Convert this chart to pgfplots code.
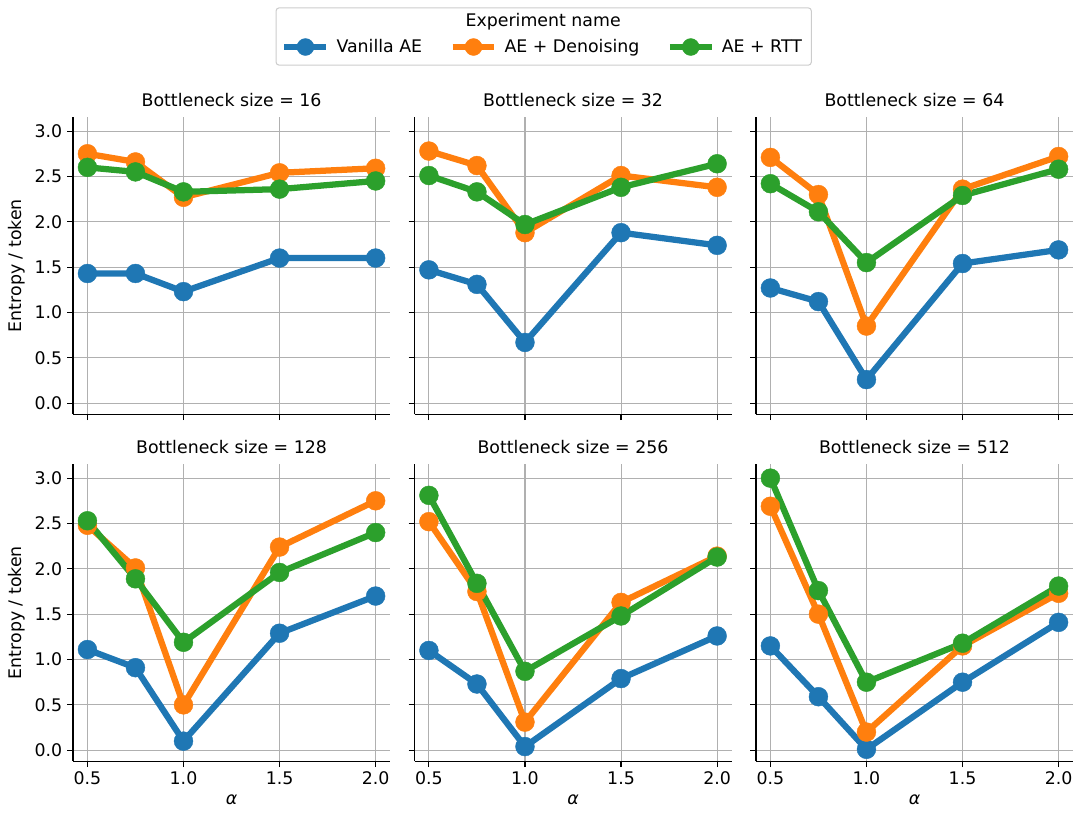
\documentclass[border=0pt]{standalone}
\usepackage{fontspec}
\setmainfont{DejaVu Sans}
\usepackage{pgfplots}
\pgfplotsset{compat=1.18}
\usepgfplotslibrary{groupplots}
\usetikzlibrary{calc}
\definecolor{tabblue}{HTML}{1F77B4}
\definecolor{taborange}{HTML}{FF7F0E}
\definecolor{tabgreen}{HTML}{2CA02C}
\definecolor{gridgray}{HTML}{B0B0B0}
\newcommand{\fs}{\fontsize{12.5}{15}\selectfont}
\pgfplotsset{
  sblue/.style={tabblue, line width=4.5pt, mark=*, mark size=6.8pt, mark options={solid, line width=0.3pt}},
  sorange/.style={taborange, line width=4.5pt, mark=*, mark size=6.8pt, mark options={solid, line width=0.3pt}},
  sgreen/.style={tabgreen, line width=4.5pt, mark=*, mark size=6.8pt, mark options={solid, line width=0.3pt}},
}
\begin{document}
\begin{tikzpicture}
\begin{groupplot}[
  group style={group name=g, group size=3 by 2, horizontal sep=17.6pt, vertical sep=36pt,
    xticklabels at=edge bottom, yticklabels at=edge left, xlabels at=edge bottom, ylabels at=edge left},
  scale only axis, width=228.2pt, height=213.8pt,
  xmin=0.425, xmax=2.075, ymin=-0.12, ymax=3.155,
  xtick={0.5,1,1.5,2}, ytick={0,0.5,1,1.5,2,2.5,3},
  axis x line*=bottom, axis y line*=left,
  tick align=outside, major tick length=4.3pt,
  grid=major, major grid style={gridgray, line width=0.75pt},
  axis line style={black, line width=0.8pt},
  every tick/.style={black, line width=0.8pt},
  tick label style={font=\fs},
  /pgf/number format/assume math mode=true,
  xticklabel style={/pgf/number format/.cd, fixed, fixed zerofill, precision=1},
  yticklabel style={/pgf/number format/.cd, fixed, fixed zerofill, precision=1},
  title style={font=\fs, yshift=-2pt},
  label style={font=\fs},
  xlabel={\itshape α}, ylabel={Entropy / token},
  legend image code/.code={\draw[mark repeat=2,mark phase=2,#1, mark size=6.1pt] plot coordinates {(0pt,0pt) (15.1pt,0pt) (30.2pt,0pt)};},
]
\nextgroupplot[title={Bottleneck size = 16},
  legend columns=3,
  legend style={font=\fs, draw=none, fill=none, at={(1.4826,1.2357)}, anchor=center,
    /tikz/every odd column/.append style={column sep=3pt},
    /tikz/every even column/.append style={column sep=17.6pt}}]
\addplot[sblue] coordinates {(0.5,1.43)(0.75,1.43)(1.0,1.23)(1.5,1.60)(2.0,1.60)};
\addlegendentry{Vanilla AE}
\addplot[sorange] coordinates {(0.5,2.75)(0.75,2.66)(1.0,2.27)(1.5,2.54)(2.0,2.59)};
\addlegendentry{AE + Denoising}
\addplot[sgreen] coordinates {(0.5,2.60)(0.75,2.55)(1.0,2.33)(1.5,2.36)(2.0,2.45)};
\addlegendentry{AE + RTT}
\nextgroupplot[title={Bottleneck size = 32}]
\addplot[sblue] coordinates {(0.5,1.47)(0.75,1.31)(1.0,0.67)(1.5,1.88)(2.0,1.74)};
\addplot[sorange] coordinates {(0.5,2.78)(0.75,2.62)(1.0,1.88)(1.5,2.51)(2.0,2.38)};
\addplot[sgreen] coordinates {(0.5,2.51)(0.75,2.33)(1.0,1.97)(1.5,2.38)(2.0,2.64)};
\nextgroupplot[title={Bottleneck size = 64}]
\addplot[sblue] coordinates {(0.5,1.27)(0.75,1.12)(1.0,0.26)(1.5,1.54)(2.0,1.69)};
\addplot[sorange] coordinates {(0.5,2.71)(0.75,2.30)(1.0,0.85)(1.5,2.36)(2.0,2.72)};
\addplot[sgreen] coordinates {(0.5,2.42)(0.75,2.11)(1.0,1.55)(1.5,2.29)(2.0,2.58)};
\nextgroupplot[title={Bottleneck size = 128}]
\addplot[sblue] coordinates {(0.5,1.11)(0.75,0.91)(1.0,0.10)(1.5,1.29)(2.0,1.70)};
\addplot[sorange] coordinates {(0.5,2.48)(0.75,2.01)(1.0,0.50)(1.5,2.24)(2.0,2.75)};
\addplot[sgreen] coordinates {(0.5,2.53)(0.75,1.89)(1.0,1.19)(1.5,1.96)(2.0,2.40)};
\nextgroupplot[title={Bottleneck size = 256}]
\addplot[sblue] coordinates {(0.5,1.10)(0.75,0.73)(1.0,0.04)(1.5,0.79)(2.0,1.26)};
\addplot[sorange] coordinates {(0.5,2.52)(0.75,1.75)(1.0,0.31)(1.5,1.63)(2.0,2.14)};
\addplot[sgreen] coordinates {(0.5,2.81)(0.75,1.84)(1.0,0.87)(1.5,1.48)(2.0,2.13)};
\nextgroupplot[title={Bottleneck size = 512}]
\addplot[sblue] coordinates {(0.5,1.15)(0.75,0.59)(1.0,0.01)(1.5,0.75)(2.0,1.41)};
\addplot[sorange] coordinates {(0.5,2.69)(0.75,1.50)(1.0,0.20)(1.5,1.15)(2.0,1.73)};
\addplot[sgreen] coordinates {(0.5,3.00)(0.75,1.76)(1.0,0.75)(1.5,1.18)(2.0,1.81)};
\end{groupplot}
\draw[gray!40, line width=0.75pt, rounded corners=2pt] ($(g c1r1.north west)+(146.2pt,78.5pt)$) rectangle ($(g c1r1.north west)+(531.4pt,37.4pt)$);
\node[font=\fs] at ($(g c1r1.north west)+(338.4pt,68.4pt)$) {Experiment name};
\pgfresetboundingbox
\useasboundingbox ($(g c1r1.north west)+(-52.56pt,84.24pt)$) rectangle ($(g c3r2.south east)+(5.04pt,-40.32pt)$);
\end{tikzpicture}
\end{document}
